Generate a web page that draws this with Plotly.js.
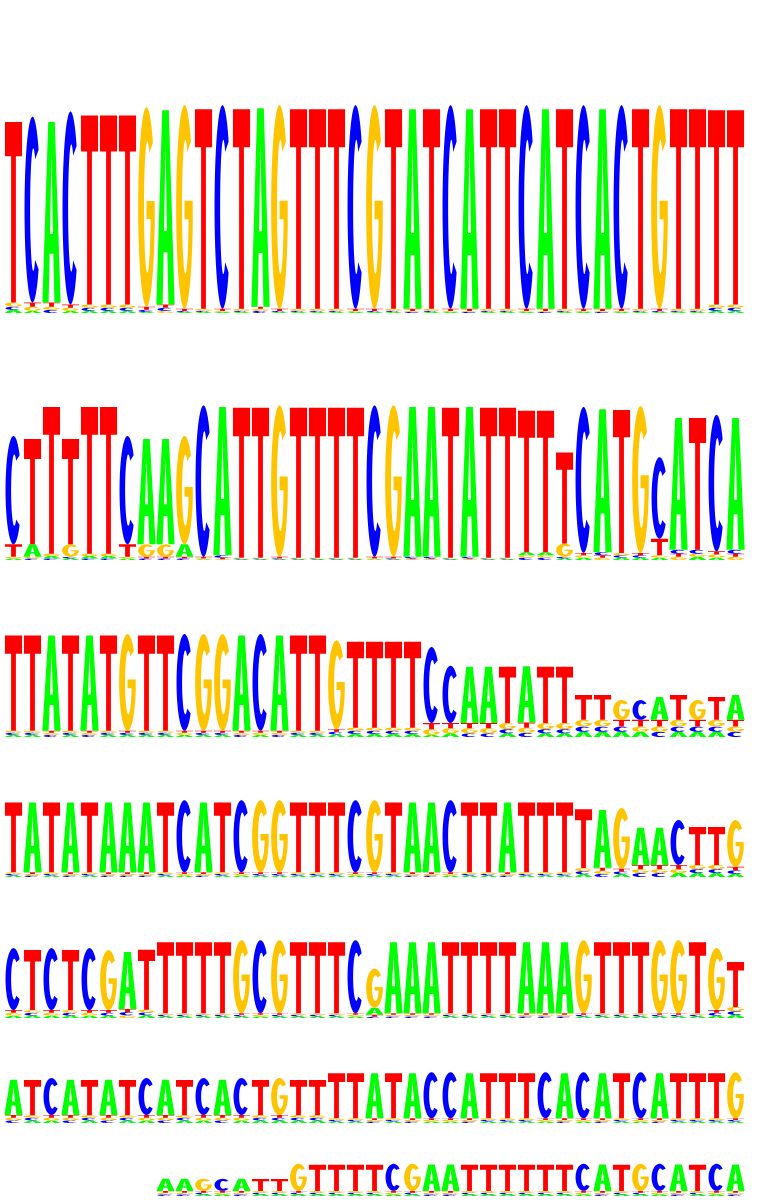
<!DOCTYPE html>
<html><head><meta charset="utf-8">
<script src="https://cdn.plot.ly/plotly-3.0.1.min.js"></script>
<style>html,body{margin:0;padding:0;background:#fff}</style>
</head><body>
<div id="chart" style="width:780px;height:1200px"></div>
<script>
// Sequence logo, 7 rows x 39 positions; values are letter heights in bits (each row on its own 0-2 bit scale)
const r1A = [.03,.02,1.72,.02,.02,.02,.02,.01,1.85,.01, .01,.01,.01,1.89,.01,.01,.01,.01,.01,.01, .01,1.90,.01,.01,1.90,.01,.01,.01,1.90,.01, .01,1.90,.01,.01,.01,.01,.01,.02,.02];
const r1C = [.03,1.77,.03,1.84,.03,.03,.03,.02,.03,.01, .01,1.94,.01,.02,.01,.01,.01,.01,1.94,.01, .01,.01,.01,1.94,.01,.01,.01,1.94,.01,.01, 1.94,.01,1.94,.01,.01,.01,.01,.03,.03];
const r1G = [.04,.04,.03,.03,.03,.03,.03,1.90,.02,1.94, .02,.01,.02,.02,1.94,.02,.02,.02,.01,1.94, .02,.01,.02,.01,.01,.02,.02,.01,.01,.02, .01,.01,.01,.02,1.94,.02,.02,.03,.03];
const r1T = [1.72,.04,.04,.03,1.80,1.80,1.80,.03,.03,.02, 1.90,.02,1.90,.02,.02,1.90,1.90,1.90,.02,.02, 1.90,.02,1.90,.02,.02,1.90,1.90,.02,.02,1.90, .02,.02,.02,1.90,.02,1.90,1.90,1.85,1.85];

const r2A = [.02,.16,.03,.02,.03,.03,.02,1.34,1.34,.16, .01,1.89,.01,.01,.01,.01,.01,.01,.01,.01, .01,1.91,1.91,.01,1.91,.01,.01,.04,.04,.02, .03,1.82,.03,.03,.03,1.68,.04,.03,1.68];
const r2C = [1.38,.02,.02,.02,.02,.02,1.38,.02,.02,.02, 1.93,.03,.01,.01,.01,.01,.01,.01,.01,1.93, .01,.02,.02,.01,.02,.01,.01,.03,.03,.02, 1.86,.04,.03,.03,1.04,.05,.05,1.74,.05];
const r2G = [.02,.02,.03,.16,.03,.03,.02,.16,.16,1.38, .01,.01,.01,.01,1.93,.01,.01,.01,.01,.01, 1.93,.01,.01,.01,.01,.01,.01,.03,.03,.17, .03,.03,.03,1.87,.03,.04,.04,.04,.04];
const r2T = [.16,1.34,1.87,1.34,1.87,1.87,.16,.02,.02,.02, .02,.02,1.91,1.91,.02,1.91,1.91,1.91,1.91,.02, .02,.01,.01,1.91,.01,1.91,1.91,1.80,1.80,1.16, .03,.03,1.82,.03,.21,.04,1.68,.04,.04];

const r3A = [.04,.04,1.83,.04,1.83,.04,.04,.04,.04,.04, .04,.04,1.83,.04,1.83,.04,.04,.05,.06,.06, .06,.06,.04,.07,1.08,1.08,.07,1.08,.07,.07, .10,.10,.10,.10,.44,.10,.10,.10,.48];
const r3C = [.04,.04,.04,.04,.04,.04,.04,.04,.04,1.86, .04,.04,.04,1.86,.04,.04,.04,.05,.06,.06, .06,.06,1.46,1.10,.07,.07,.08,.08,.08,.08, .10,.10,.10,.38,.10,.10,.10,.10,.10];
const r3G = [.04,.04,.04,.04,.04,.04,1.86,.04,.04,.04, 1.86,1.86,.04,.04,.04,.04,.04,1.71,.06,.06, .06,.06,.11,.10,.10,.10,.12,.10,.12,.12, .13,.13,.38,.10,.10,.13,.38,.13,.10];
const r3T = [1.83,1.83,.04,1.83,.04,1.83,.04,1.83,1.83,.04, .04,.04,.04,.04,.04,1.83,1.83,.05,1.65,1.65, 1.65,1.65,.12,.10,.10,.10,1.08,.10,1.08,1.08, .48,.48,.13,.13,.13,.48,.13,.44,.13];

const r4A = [.04,1.79,.04,1.79,.04,1.79,1.79,1.79,.04,.04, 1.79,.04,.04,.04,.04,.04,.04,.04,.04,.04, .04,1.79,1.79,.04,.04,.04,1.79,.04,.04,.04, .07,1.48,.07,.95,.95,.10,.10,.10,.08];
const r4C = [.04,.04,.04,.04,.04,.04,.04,.04,.04,1.85, .04,.04,1.85,.04,.04,.04,.04,.04,1.85,.04, .04,.04,.04,1.85,.04,.04,.04,.04,.04,.04, .08,.08,.07,.10,.10,1.15,.10,.10,.09];
const r4G = [.04,.04,.04,.04,.04,.04,.04,.04,.04,.04, .04,.04,.04,1.85,1.85,.04,.04,.04,.04,1.85, .04,.04,.04,.04,.04,.04,.04,.04,.04,.04, .08,.08,1.56,.10,.10,.10,.11,.11,1.20];
const r4T = [1.79,.04,1.79,.04,1.79,.04,.04,.04,1.79,.04, .04,1.79,.04,.04,.04,1.79,1.79,1.79,.04,.04, 1.79,.04,.04,.04,1.79,1.79,.04,1.79,1.79,1.79, 1.51,.08,.07,.11,.11,.11,.97,.97,.09];

const r5A = [.06,.06,.06,.06,.06,.06,1.44,.07,.04,.04, .04,.04,.04,.04,.04,.04,.04,.04,.04,.18, 1.80,1.80,1.80,.04,.04,.04,.04,1.80,1.80,1.80, .04,.04,.04,.04,.04,.04,.04,.06,.08];
const r5C = [1.57,.07,1.57,.07,1.57,.07,.08,.07,.04,.04, .04,.04,.04,1.85,.04,.04,.04,.04,1.85,.03, .04,.04,.04,.04,.04,.04,.04,.04,.04,.04, .04,.04,.04,.04,.04,.04,.04,.07,.09];
const r5G = [.07,.07,.07,.07,.07,1.52,.07,.07,.04,.04, .04,.04,1.85,.04,1.85,.04,.04,.04,.04,.99, .04,.04,.04,.04,.04,.04,.04,.04,.04,.04, 1.85,.04,.04,.04,1.85,1.85,.04,1.57,.11];
const r5T = [.07,1.52,.07,1.52,.07,.07,.08,1.52,1.80,1.80, 1.80,1.80,.04,.04,.04,1.80,1.80,1.80,.04,.05, .04,.04,.04,1.80,1.80,1.80,1.80,.04,.04,.04, .04,1.80,1.80,1.80,.04,.04,1.80,.07,1.14];

const r6A = [1.35,.10,.10,1.35,.10,1.35,.10,.10,1.35,.10, .10,1.35,.10,.10,.10,.10,.10,.06,.06,1.73, .06,1.73,.06,.06,1.73,.06,.06,.06,.06,1.73, .06,1.73,.06,.06,1.73,.06,.06,.06,.06];
const r6C = [.10,.10,1.42,.10,.10,.10,.10,1.42,.10,.10, 1.42,.10,1.42,.10,.10,.10,.10,.06,.06,.06, .06,.06,1.77,1.77,.06,.06,.06,.06,1.77,.06, 1.77,.06,.06,1.77,.06,.06,.06,.06,.06];
const r6G = [.10,.10,.10,.10,.10,.10,.10,.10,.10,.10, .10,.10,.10,.10,1.42,.10,.10,.06,.06,.06, .06,.06,.06,.06,.06,.06,.06,.06,.06,.06, .06,.06,.06,.06,.06,.06,.06,.06,1.77];
const r6T = [.11,1.35,.11,.11,1.35,.11,1.35,.11,.11,1.35, .11,.11,.11,1.35,.11,1.35,1.35,1.73,1.73,.06, 1.73,.06,.06,.06,.06,1.73,1.73,1.73,.06,.06, .06,.06,1.73,.06,.06,1.73,1.73,1.73,.06];

const r7A = [0,0,0,0,0,0,0,0,.73,.73, .10,.10,.73,.10,.10,.10,.10,.10,.10,.10, .10,.10,1.60,1.60,.10,.10,.10,.10,.10,.10, .10,1.60,.10,.10,.10,1.60,.10,.10,1.60];
const r7C = [0,0,0,0,0,0,0,0,.10,.10, .10,.73,.10,.10,.10,.10,.10,.10,.10,.10, 1.64,.10,.10,.10,.10,.10,.10,.10,.10,.10, 1.64,.10,.10,.10,1.64,.10,.10,1.64,.10];
const r7G = [0,0,0,0,0,0,0,0,.10,.10, .73,.10,.10,.10,.10,1.64,.10,.10,.10,.10, .10,1.64,.10,.10,.10,.10,.10,.10,.10,.10, .10,.10,.10,1.64,.10,.10,.10,.10,.10];
const r7T = [0,0,0,0,0,0,0,0,.11,.11, .11,.11,.11,.73,.73,.11,1.60,1.60,1.60,1.60, .11,.11,.11,.11,1.60,1.60,1.60,1.60,1.60,1.60, .11,.11,1.60,.11,.11,.11,1.60,.11,.11];

const bases = ["A","C","G","T"];
const rows = [
  {A:r1A,C:r1C,G:r1G,T:r1T},{A:r2A,C:r2C,G:r2G,T:r2T},{A:r3A,C:r3C,G:r3G,T:r3T},
  {A:r4A,C:r4C,G:r4G,T:r4T},{A:r5A,C:r5C,G:r5G,T:r5T},{A:r6A,C:r6C,G:r6G,T:r6T},
  {A:r7A,C:r7C,G:r7G,T:r7T}
];

// ---- styling / layout constants ----
const COLORS = {A:"#00ff00", C:"#0000ff", G:"#ffc400", T:"#ff0000"};
const WIDTH = {A:0.96, C:0.84, G:0.88, T:0.90};
// pixel rows: [baseline, top of 2-bit range]
const ROWPX = [[313,103],[560,403],[737,633],[877,799],[1018,939],[1123,1071],[1196,1163]];
const H = 1200;

function arc(cx, cy, rx, ry, a0, a1, n){
  const p=[];
  for(let i=0;i<=n;i++){const a=(a0+(a1-a0)*i/n)*Math.PI/180;p.push([cx+rx*Math.cos(a),cy+ry*Math.sin(a)]);}
  return p;
}
const GLYPHS = {
  T:[[[0,1],[1,1],[1,0.81],[0.64,0.81],[0.64,0],[0.36,0],[0.36,0.81],[0,0.81]]],
  A:[[[0,0],[0.32,1],[0.68,1],[1,0],[0.66,0],[0.6,0.27],[0.4,0.27],[0.34,0]],
     [[0.42,0.38],[0.58,0.38],[0.5,0.82]]],
  C:[arc(.5,.5,.5,.5,40,320,48).concat(arc(.55,.5,.2,.33,305,55,40))],
  G:[arc(.5,.5,.5,.5,40,352,52).concat([[0.99,0.53],[0.5,0.53],[0.5,0.44],[0.74,0.44]]).concat(arc(.55,.5,.2,.33,345,55,44))]
};
function glyphPath(L, xc, y0, h){
  const w = WIDTH[L];
  return GLYPHS[L].map(poly => 'M' + poly.map(p =>
    (xc - w/2 + p[0]*w).toFixed(4) + ',' + (y0 + p[1]*h).toFixed(5)).join('L') + 'Z').join('');
}

const shapes = [];
const data = [];
const layout = {
  width:780, height:1200, margin:{l:0,r:0,t:0,b:0},
  paper_bgcolor:'#fff', plot_bgcolor:'#fff', showlegend:false,
  xaxis:{range:[0.2895,41.34], visible:false, fixedrange:true, anchor:'y'}
};
rows.forEach((row, r) => {
  const yname = r === 0 ? 'y' : 'y' + (r+1);
  const akey = r === 0 ? 'yaxis' : 'yaxis' + (r+1);
  const [b, t] = ROWPX[r];
  layout[akey] = {domain:[1 - b/H, 1 - t/H], range:[0,2], visible:false, fixedrange:true, anchor:'x'};
  data.push({type:'scatter', x:[], y:[], xaxis:'x', yaxis:yname, hoverinfo:'skip', showlegend:false});
  const n = row.A.length;
  for(let i=0;i<n;i++){
    const stack = bases.map(L => [L, row[L][i]]).filter(d => d[1] > 0);
    stack.sort((a,b2) => a[1]-b2[1]);
    let y = 0;
    stack.forEach(([L, h]) => {
      shapes.push({type:'path', xref:'x', yref:yname, path:glyphPath(L, i+1, y, h),
        fillcolor:COLORS[L], line:{width:0}, fillrule:'evenodd', layer:'above'});
      y += h;
    });
  }
});
layout.shapes = shapes;
Plotly.newPlot('chart', data, layout, {staticPlot:true, displayModeBar:false});
</script>
</body></html>
